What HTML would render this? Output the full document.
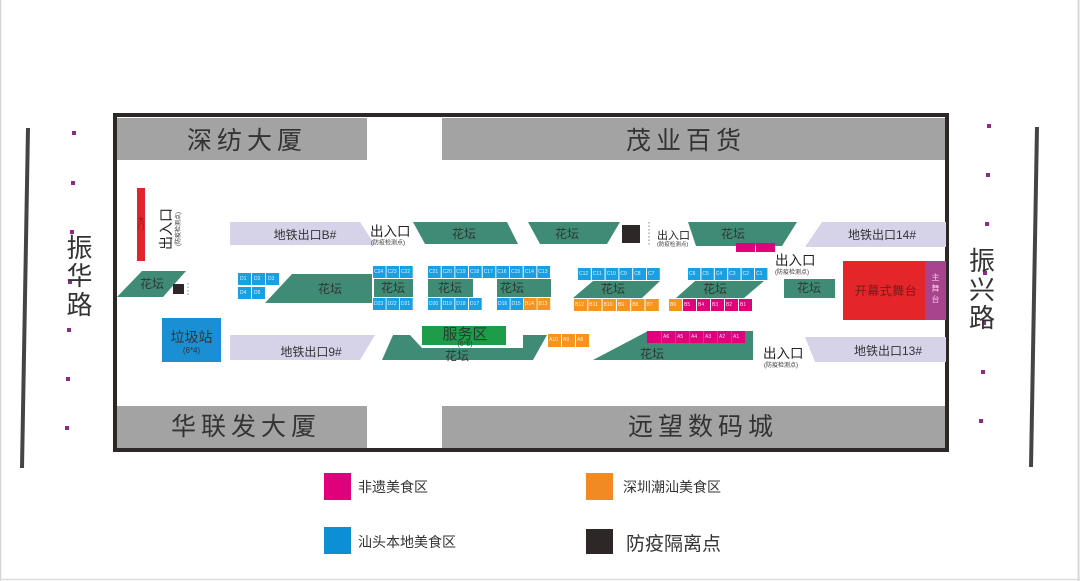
<!DOCTYPE html>
<html><head><meta charset="utf-8"><style>
html,body{margin:0;padding:0;background:#fff;}
svg{display:block;}
text{font-family:"Liberation Sans","Noto Sans CJK SC",sans-serif;}
.b{font-size:25px;fill:#333;letter-spacing:5px;}
.r{font-size:26px;fill:#333;}
.h{font-size:12px;fill:#2e3733;}
.m{font-size:12px;fill:#333;}
.e{font-size:13.5px;fill:#222;}
.es{font-size:6px;fill:#333;}
.s{font-size:5px;fill:#fff;opacity:.85;}
.lg{font-size:14px;fill:#333;}
</style></head><body>
<svg width="1080" height="581" viewBox="0 0 1080 581" xmlns="http://www.w3.org/2000/svg">
<rect width="1080" height="581" fill="#fff"/>
<line x1="0.5" y1="0" x2="0.5" y2="581" stroke="#d4d4d4" stroke-width="1.5"/>
<line x1="1078.5" y1="0" x2="1078.5" y2="581" stroke="#d8d8d8" stroke-width="2"/>
<line x1="0" y1="579.5" x2="1080" y2="579.5" stroke="#dcdcdc" stroke-width="1.5"/>

<!-- roads -->
<line x1="28" y1="128" x2="22" y2="468" stroke="#444" stroke-width="4"/>
<line x1="1037" y1="127" x2="1031" y2="467" stroke="#444" stroke-width="4"/>
<g fill="#8e2a8a">
<rect x="72" y="131" width="4" height="4"/><rect x="71" y="181" width="4" height="4"/><rect x="70" y="230" width="4" height="4"/><rect x="68" y="280" width="4" height="4"/><rect x="67" y="328" width="4" height="4"/><rect x="66" y="377" width="4" height="4"/><rect x="65" y="426" width="4" height="4"/>
<rect x="987" y="124" width="4" height="4"/><rect x="986" y="173" width="4" height="4"/><rect x="985" y="222" width="4" height="4"/><rect x="983" y="271" width="4" height="4"/><rect x="982" y="321" width="4" height="4"/><rect x="981" y="370" width="4" height="4"/><rect x="979" y="419" width="4" height="4"/>
</g>
<g class="r" text-anchor="middle" dominant-baseline="central">
<text x="79.5" y="248" class="r">振</text><text x="79.5" y="276" class="r">华</text><text x="79.5" y="305" class="r">路</text>
<text x="982" y="261" class="r">振</text><text x="982" y="290" class="r">兴</text><text x="982" y="318" class="r">路</text>
</g>

<!-- buildings -->
<rect x="117" y="118" width="250" height="42" fill="#a3a3a3"/>
<rect x="442" y="118" width="504" height="42" fill="#a3a3a3"/>
<rect x="117" y="406" width="250" height="42" fill="#a3a3a3"/>
<rect x="442" y="406" width="504" height="42" fill="#a3a3a3"/>
<text x="247" y="141" class="b" text-anchor="middle" dominant-baseline="central">深纺大厦</text>
<text x="686" y="141" class="b" text-anchor="middle" dominant-baseline="central">茂业百货</text>
<text x="246" y="427" class="b" text-anchor="middle" dominant-baseline="central">华联发大厦</text>
<text x="703" y="427" class="b" text-anchor="middle" dominant-baseline="central">远望数码城</text>

<!-- frame -->
<rect x="115" y="115" width="832" height="335" fill="none" stroke="#2d2728" stroke-width="4"/>

<!-- left side -->
<rect x="137" y="188" width="8" height="73" fill="#e0262a"/>
<text x="141" y="222" font-size="6" fill="#7a1010" text-anchor="middle">大</text>
<text x="141" y="229" font-size="6" fill="#7a1010" text-anchor="middle">门</text>
<g transform="translate(171,229) rotate(-90)">
<text x="0" y="0" font-size="14" fill="#222" text-anchor="middle">出入口</text>
<text x="0" y="9" font-size="6" fill="#333" text-anchor="middle">(防疫检测点)</text>
</g>
<polygon points="142,271 186,271 163,297 117,297" fill="#408b75"/>
<text x="152" y="288" class="h" text-anchor="middle">花坛</text>
<rect x="173" y="284" width="11" height="10" fill="#2d2728"/>
<line x1="188" y1="283" x2="188" y2="297" stroke="#888" stroke-width="1" stroke-dasharray="1.5,2"/>
<rect x="162" y="318" width="59" height="44" fill="#1a8fd4"/>
<text x="191.5" y="342" font-size="14" fill="#333" text-anchor="middle">垃圾站</text>
<text x="191.5" y="353" font-size="8" fill="#333" text-anchor="middle">(6*4)</text>

<!-- subway exits -->
<polygon points="230,222 360,222 375,245 230,245" fill="#d6d3e9"/>
<text x="305" y="239" class="m" text-anchor="middle">地铁出口B#</text>
<polygon points="230,335 375,335 360,360 230,360" fill="#d6d3e9"/>
<text x="311" y="356" class="m" text-anchor="middle">地铁出口9#</text>
<polygon points="822,222 946,222 946,247 805,247" fill="#d6d3e9"/>
<text x="882" y="239" class="m" text-anchor="middle">地铁出口14#</text>
<polygon points="805,337 946,337 946,362 815,362" fill="#d6d3e9"/>
<text x="888" y="355" class="m" text-anchor="middle">地铁出口13#</text>

<!-- entrance labels -->
<text x="370" y="236" class="e">出入口</text>
<text x="371" y="244.5" class="es">(防疫检测点)</text>
<text x="657" y="239" font-size="11" fill="#222">出入口</text>
<text x="657" y="246" font-size="5.5" fill="#333">(防疫检测点)</text>
<line x1="649" y1="222" x2="649" y2="246" stroke="#888" stroke-width="1" stroke-dasharray="1.5,2"/>
<text x="775" y="265" class="e">出入口</text>
<text x="775" y="274" class="es">(防疫检测点)</text>
<text x="763" y="358" class="e">出入口</text>
<text x="764" y="367" class="es">(防疫检测点)</text>

<!-- top flower beds -->
<polygon points="413,222 507,222 518,244 425,244" fill="#408b75"/>
<text x="464" y="238" class="h" text-anchor="middle">花坛</text>
<polygon points="528,222 620,222 607,244 540,244" fill="#408b75"/>
<text x="567" y="238" class="h" text-anchor="middle">花坛</text>
<rect x="622" y="225" width="18" height="18" fill="#2d2728"/>
<polygon points="688,222 797,222 782,246 696,246" fill="#408b75"/>
<text x="733" y="238" class="h" text-anchor="middle">花坛</text>
<rect x="736" y="243" width="19" height="9" fill="#e0007c"/>
<rect x="756" y="243" width="19" height="9" fill="#e0007c"/>

<!-- middle flower beds -->
<polygon points="292,274 372,274 372,303 265,303" fill="#408b75"/>
<text x="330" y="293" class="h" text-anchor="middle">花坛</text>
<rect x="374" y="279" width="39" height="18" fill="#408b75"/>
<text x="393" y="292" class="h" text-anchor="middle">花坛</text>
<rect x="428" y="279" width="45" height="18" fill="#408b75"/>
<text x="450" y="292" class="h" text-anchor="middle">花坛</text>
<rect x="497" y="279" width="54" height="18" fill="#408b75"/>
<text x="512" y="292" class="h" text-anchor="middle">花坛</text>
<polygon points="593,281 660,281 642,298 573,298" fill="#408b75"/>
<text x="613" y="293" class="h" text-anchor="middle">花坛</text>
<polygon points="695,281 764,281 744,298 676,298" fill="#408b75"/>
<text x="715" y="293" class="h" text-anchor="middle">花坛</text>
<rect x="784" y="279" width="51" height="19" fill="#408b75"/>
<text x="809" y="292" class="h" text-anchor="middle">花坛</text>

<!-- stage -->
<rect x="843" y="261" width="82" height="59" fill="#e4252a"/>
<rect x="925" y="261" width="21" height="59" fill="#a8448e"/>
<text x="886" y="295" font-size="12" fill="#7a1a1a" text-anchor="middle" letter-spacing="0.5">开幕式舞台</text>
<text x="935.5" y="280" font-size="8" fill="#f0c4e2" text-anchor="middle">主</text>
<text x="935.5" y="291" font-size="8" fill="#f0c4e2" text-anchor="middle">舞</text>
<text x="935.5" y="302" font-size="8" fill="#f0c4e2" text-anchor="middle">台</text>

<!-- bottom flower beds -->
<polygon points="382,360 393,335 410,335 422,348 523,348 523,335 547,335 533,360" fill="#408b75"/>
<text x="457" y="360" class="h" text-anchor="middle">花坛</text>
<rect x="422" y="326" width="84" height="19" fill="#1d9c4a"/>
<text x="465" y="339" font-size="15" fill="#2a3a30" text-anchor="middle">服务区</text>
<text x="465" y="346" font-size="7" fill="#2a3a30" text-anchor="middle">(6*6)</text>
<polygon points="593,360 648,331 753,331 753,360" fill="#408b75"/>
<text x="652" y="358" class="h" text-anchor="middle">花坛</text>

<!-- blue stalls -->
<g fill="#19a0e3">
<rect x="238" y="273" width="13" height="12"/><rect x="252" y="273" width="13" height="12"/><rect x="266" y="273" width="13" height="12"/>
<rect x="238" y="287" width="13" height="12"/><rect x="252" y="287" width="13" height="12"/>
<rect x="373" y="266" width="12.7" height="12"/><rect x="386.5" y="266" width="12.7" height="12"/><rect x="400" y="266" width="12.7" height="12"/>
<rect x="373" y="298" width="12.7" height="12"/><rect x="386.5" y="298" width="12.7" height="12"/><rect x="400" y="298" width="12.7" height="12"/>
<rect x="428" y="266" width="12.7" height="12"/><rect x="441.7" y="266" width="12.7" height="12"/><rect x="455.3" y="266" width="12.7" height="12"/><rect x="469" y="266" width="12.7" height="12"/><rect x="482.7" y="266" width="12.7" height="12"/><rect x="496.3" y="266" width="12.7" height="12"/><rect x="510" y="266" width="12.7" height="12"/><rect x="523.7" y="266" width="12.7" height="12"/><rect x="537.3" y="266" width="12.7" height="12"/>
<rect x="428" y="298" width="12.7" height="12"/><rect x="441.7" y="298" width="12.7" height="12"/><rect x="455.3" y="298" width="12.7" height="12"/><rect x="469" y="298" width="12.7" height="12"/>
<rect x="497" y="298" width="12.7" height="12"/><rect x="510.5" y="298" width="12.7" height="12"/>
<rect x="578" y="268" width="12.8" height="12"/><rect x="591.8" y="268" width="12.8" height="12"/><rect x="605.6" y="268" width="12.8" height="12"/><rect x="619.4" y="268" width="12.8" height="12"/><rect x="633.2" y="268" width="12.8" height="12"/><rect x="647" y="268" width="12.8" height="12"/>
<rect x="688" y="268" width="12.4" height="12"/><rect x="701.4" y="268" width="12.4" height="12"/><rect x="714.8" y="268" width="12.4" height="12"/><rect x="728.2" y="268" width="12.4" height="12"/><rect x="741.6" y="268" width="12.4" height="12"/><rect x="755" y="268" width="12.4" height="12"/>
</g>
<!-- orange stalls -->
<g fill="#f7941d">
<rect x="524" y="298" width="12.7" height="12"/><rect x="537.5" y="298" width="12.7" height="12"/>
<rect x="574" y="299" width="13.3" height="12"/><rect x="588.3" y="299" width="13.3" height="12"/><rect x="602.6" y="299" width="13.3" height="12"/><rect x="616.9" y="299" width="13.3" height="12"/><rect x="631.2" y="299" width="13.3" height="12"/><rect x="645.5" y="299" width="13.3" height="12"/>
<rect x="669" y="299" width="13" height="12"/>
<rect x="548" y="334" width="13" height="13"/><rect x="562" y="334" width="13" height="13"/><rect x="576" y="334" width="13" height="13"/>
</g>
<!-- magenta stalls -->
<g fill="#e0007c">
<rect x="683" y="299" width="13" height="12"/><rect x="697" y="299" width="13" height="12"/><rect x="711" y="299" width="13" height="12"/><rect x="725" y="299" width="13" height="12"/><rect x="739" y="299" width="13" height="12"/>
<rect x="647" y="331" width="14" height="12"/><rect x="662" y="331" width="13" height="12"/><rect x="676" y="331" width="13" height="12"/><rect x="690" y="331" width="13" height="12"/><rect x="704" y="331" width="13" height="12"/><rect x="718" y="331" width="13" height="12"/><rect x="732" y="331" width="13" height="12"/>
</g>
<!-- stall labels -->
<g class="s">
<text x="240" y="280">D1</text><text x="254" y="280">D2</text><text x="268" y="280">D3</text><text x="240" y="294">D4</text><text x="254" y="294">D5</text>
<text x="374" y="273">C24</text><text x="387.5" y="273">C23</text><text x="401" y="273">C22</text>
<text x="374" y="305">D23</text><text x="387.5" y="305">D22</text><text x="401" y="305">D21</text>
<text x="429" y="273">C21</text><text x="442.7" y="273">C20</text><text x="456.3" y="273">C19</text><text x="470" y="273">C18</text><text x="483.7" y="273">C17</text><text x="497.3" y="273">C16</text><text x="511" y="273">C15</text><text x="524.7" y="273">C14</text><text x="538.3" y="273">C13</text>
<text x="429" y="305">D20</text><text x="442.7" y="305">D19</text><text x="456.3" y="305">D18</text><text x="470" y="305">D17</text>
<text x="498" y="305">D16</text><text x="511.5" y="305">D15</text><text x="525" y="305">B14</text><text x="538.5" y="305">B13</text>
<text x="579" y="275">C12</text><text x="592.8" y="275">C11</text><text x="606.6" y="275">C10</text><text x="620.4" y="275">C9</text><text x="634.2" y="275">C8</text><text x="648" y="275">C7</text>
<text x="575" y="306">B12</text><text x="589.3" y="306">B11</text><text x="603.6" y="306">B10</text><text x="617.9" y="306">B9</text><text x="632.2" y="306">B8</text><text x="646.5" y="306">B7</text>
<text x="689" y="275">C6</text><text x="702.4" y="275">C5</text><text x="715.8" y="275">C4</text><text x="729.2" y="275">C3</text><text x="742.6" y="275">C2</text><text x="756" y="275">C1</text>
<text x="670" y="306">B6</text><text x="684" y="306">B5</text><text x="698" y="306">B4</text><text x="712" y="306">B3</text><text x="726" y="306">B2</text><text x="740" y="306">B1</text>
<text x="549" y="341">A10</text><text x="563" y="341">A9</text><text x="577" y="341">A8</text>
<text x="663" y="338">A6</text><text x="677" y="338">A5</text><text x="691" y="338">A4</text><text x="705" y="338">A3</text><text x="719" y="338">A2</text><text x="733" y="338">A1</text>
</g>

<!-- legend -->
<rect x="324" y="473" width="27" height="27" fill="#e0007c"/>
<text x="358" y="492" class="lg">非遗美食区</text>
<rect x="586" y="473" width="27" height="27" fill="#f18a22"/>
<text x="623" y="492" class="lg">深圳潮汕美食区</text>
<rect x="324" y="527" width="27" height="27" fill="#0d8fd6"/>
<text x="358" y="547" class="lg">汕头本地美食区</text>
<rect x="586" y="529" width="27" height="25" fill="#2d2728"/>
<text x="626" y="550" font-size="19" fill="#333">防疫隔离点</text>
</svg>
</body></html>
